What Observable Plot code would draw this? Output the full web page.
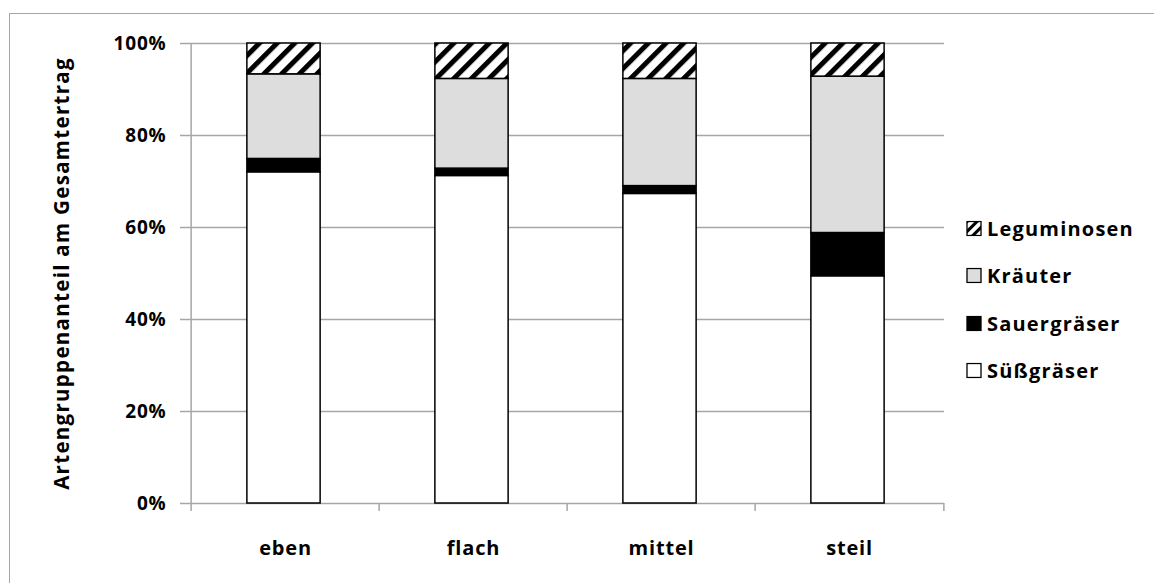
<!DOCTYPE html>
<html>
<head>
<meta charset="utf-8">
<script src="https://cdn.jsdelivr.net/npm/d3@7"></script>
<script src="https://cdn.jsdelivr.net/npm/@observablehq/plot@0.6"></script>
<style>
  html, body { margin: 0; padding: 0; background: #fff; }
  #chart {
    position: relative; width: 1154px; height: 583px; overflow: hidden;
    font-family: "Open Sans", sans-serif; font-weight: 700; color: #000;
  }
  #chart .frame {
    position: absolute; left: 9px; top: 13px; width: 1200px; height: 640px;
    border: 1.5px solid #a6a6a6; box-sizing: border-box;
  }
  #chart svg.plot { position: absolute; left: 0; top: 0; }
  #legend { position: absolute; left: 966px; top: 0; }
  #legend .item {
    position: absolute; left: 0; display: flex; align-items: center;
    white-space: nowrap; font-size: 20px; letter-spacing: 1.2px; transform: translateY(-50%);
  }
  #legend .item svg { margin-right: 5px; }
</style>
</head>
<body>
<div id="chart"><div class="frame"></div><div id="legend"></div></div>
<script>
// Slope classes and species groups (stacked bottom → top)
const categories = ["eben", "flach", "mittel", "steil"];
const groups = ["Süßgräser", "Sauergräser", "Kräuter", "Leguminosen"];

// Share of total yield, percent
const suessgraeser = [72.0, 71.2, 67.3, 49.4];
const sauergraeser = [2.9, 1.6, 1.7, 9.4];
const kraeuter     = [18.4, 19.5, 23.3, 34.0];
const leguminosen  = [6.7, 7.7, 7.7, 7.2];

const yTicks = [0, 20, 40, 60, 80, 100];
const yTitle = "Artengruppenanteil am Gesamtertrag";

const fills = ["#ffffff", "#000000", "#dddddd", "url(#hatch)"];

const seriesValues = [suessgraeser, sauergraeser, kraeuter, leguminosen];
const rows = [];
groups.forEach((g, gi) => {
  categories.forEach((c, ci) => rows.push({category: c, group: g, value: seriesValues[gi][ci]}));
});

const W = 1154, H = 583;
const mL = 189, mR = 210, mT = 43, mB = 80;
const band = (W - mL - mR) / categories.length;
const barWidth = 74;
const grey = "#a6a6a6";

const plot = Plot.plot({
  width: W, height: H,
  marginLeft: mL, marginRight: mR, marginTop: mT, marginBottom: mB,
  style: {fontFamily: "'Open Sans', sans-serif", fontSize: "19px", fontWeight: 700, color: "#000", background: "transparent"},
  x: {domain: categories, padding: 0},
  y: {domain: [0, 100]},
  color: {domain: groups, range: fills},
  marks: [
    Plot.gridY(yTicks, {stroke: grey, strokeOpacity: 1, strokeWidth: 1.5}),
    // vertical axis line
    Plot.ruleX([categories[0]], {x: d => d, dx: -band / 2, stroke: grey, strokeWidth: 1.5}),
    // category boundary ticks below the baseline
    Plot.ruleX(categories, {x: d => d, dx: -band / 2, insetTop: H - mT - mB, insetBottom: -8, stroke: grey, strokeWidth: 1.5}),
    Plot.ruleX([categories[categories.length - 1]], {x: d => d, dx: band / 2, insetTop: H - mT - mB, insetBottom: -8, stroke: grey, strokeWidth: 1.5}),
    Plot.barY(rows, Plot.stackY({
      x: "category", y: "value", z: "group", fill: "group", order: groups,
      dx: -1.5,
      insetLeft: (band - barWidth) / 2, insetRight: (band - barWidth) / 2,
      stroke: "#000", strokeWidth: 1.5
    })),
    Plot.axisY(yTicks, {
      tickFormat: d => d + "%", tickSize: 9, tickPadding: 14, stroke: grey, strokeWidth: 1.5,
      fontSize: 19, label: yTitle, labelAnchor: "center", labelArrow: "none", labelOffset: 135
    }),
    Plot.axisX({tickSize: 0, tickPadding: 37, fontSize: 20, label: null})
  ]
});
plot.classList.add("plot");

// hatch pattern for the legumes segments
const defs = d3.select(plot).insert("defs", ":first-child");
const pat = defs.append("pattern").attr("id", "hatch").attr("patternUnits", "userSpaceOnUse")
  .attr("width", 12.5).attr("height", 12.5).attr("patternTransform", "rotate(45)");
pat.append("rect").attr("width", 12.5).attr("height", 12.5).attr("fill", "#fff");
pat.append("rect").attr("width", 5).attr("height", 12.5).attr("fill", "#000");

document.getElementById("chart").appendChild(plot);

// letter spacing on axis texts; larger axis title
d3.select(plot).selectAll("text").style("letter-spacing", "0.8px");
d3.select(plot).selectAll('g[aria-label="y-axis label"] text')
  .style("font-size", "20.5px").style("letter-spacing", "1.3px");

// legend on the right, top entry = top of stack
const legend = d3.select("#legend");
const legendY = [228, 275, 323, 370];
groups.slice().reverse().forEach((g, i) => {
  const gi = groups.indexOf(g);
  const item = legend.append("div").attr("class", "item").style("top", legendY[i] + "px");
  const sw = item.append("svg").attr("width", 16).attr("height", 16);
  if (gi === 3) {
    const p = sw.append("defs").append("pattern").attr("id", "hatch-small").attr("patternUnits", "userSpaceOnUse")
      .attr("width", 7).attr("height", 7).attr("patternTransform", "rotate(45)");
    p.append("rect").attr("width", 7).attr("height", 7).attr("fill", "#fff");
    p.append("rect").attr("width", 3).attr("height", 7).attr("fill", "#000");
    sw.append("rect").attr("x", 1).attr("y", 1).attr("width", 14).attr("height", 14)
      .attr("fill", "url(#hatch-small)").attr("stroke", "#000").attr("stroke-width", 1.3);
  } else {
    sw.append("rect").attr("x", 1).attr("y", 1).attr("width", 14).attr("height", 14)
      .attr("fill", fills[gi]).attr("stroke", "#000").attr("stroke-width", 1.3);
  }
  item.append("span").text(g);
});
</script>
</body>
</html>
